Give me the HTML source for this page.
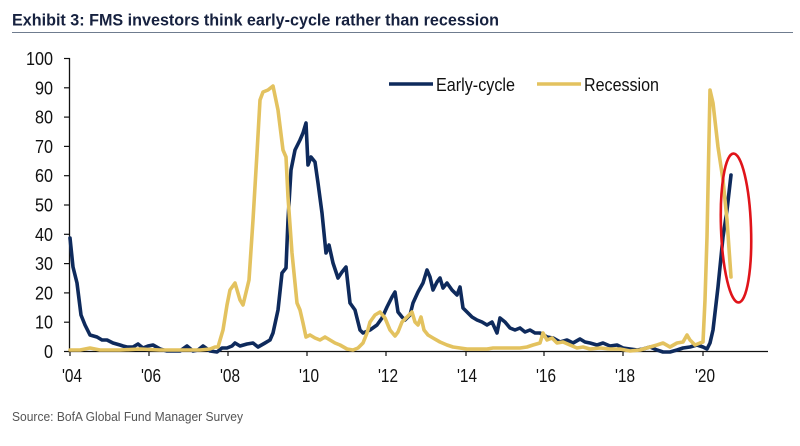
<!DOCTYPE html>
<html>
<head>
<meta charset="utf-8">
<style>
  html, body { margin: 0; padding: 0; background: #ffffff; }
  body { width: 800px; height: 446px; overflow: hidden; }
  svg { display: block; }
  text { font-family: "Liberation Sans", Arial, sans-serif; }
</style>
</head>
<body>
<svg width="800" height="446" viewBox="0 0 800 446" xmlns="http://www.w3.org/2000/svg">
  <rect width="800" height="446" fill="#ffffff"/>
  <!-- Title -->
  <text x="12" y="25.5" font-size="16.5" font-weight="bold" fill="#16213f" textLength="487" lengthAdjust="spacingAndGlyphs">Exhibit 3: FMS investors think early-cycle rather than recession</text>
  <line x1="12" y1="32.5" x2="793" y2="32.5" stroke="#6f7c8f" stroke-width="1"/>

  <!-- Y axis -->
  <line x1="69.5" y1="58" x2="69.5" y2="352" stroke="#111" stroke-width="1.3"/>
  <g stroke="#111" stroke-width="1.2">
    <line x1="64" y1="58.5" x2="70" y2="58.5"/>
    <line x1="64" y1="87.8" x2="70" y2="87.8"/>
    <line x1="64" y1="117.1" x2="70" y2="117.1"/>
    <line x1="64" y1="146.4" x2="70" y2="146.4"/>
    <line x1="64" y1="175.7" x2="70" y2="175.7"/>
    <line x1="64" y1="205" x2="70" y2="205"/>
    <line x1="64" y1="234.3" x2="70" y2="234.3"/>
    <line x1="64" y1="263.6" x2="70" y2="263.6"/>
    <line x1="64" y1="292.9" x2="70" y2="292.9"/>
    <line x1="64" y1="322.2" x2="70" y2="322.2"/>
    <line x1="64" y1="351.5" x2="70" y2="351.5"/>
  </g>
  <g font-size="18" fill="#111" text-anchor="end">
    <text x="53" y="65" textLength="27" lengthAdjust="spacingAndGlyphs">100</text>
    <text x="53" y="94.3" textLength="18" lengthAdjust="spacingAndGlyphs">90</text>
    <text x="53" y="123.6" textLength="18" lengthAdjust="spacingAndGlyphs">80</text>
    <text x="53" y="152.9" textLength="18" lengthAdjust="spacingAndGlyphs">70</text>
    <text x="53" y="182.2" textLength="18" lengthAdjust="spacingAndGlyphs">60</text>
    <text x="53" y="211.5" textLength="18" lengthAdjust="spacingAndGlyphs">50</text>
    <text x="53" y="240.8" textLength="18" lengthAdjust="spacingAndGlyphs">40</text>
    <text x="53" y="270.1" textLength="18" lengthAdjust="spacingAndGlyphs">30</text>
    <text x="53" y="299.4" textLength="18" lengthAdjust="spacingAndGlyphs">20</text>
    <text x="53" y="328.7" textLength="18" lengthAdjust="spacingAndGlyphs">10</text>
    <text x="53" y="358" textLength="9" lengthAdjust="spacingAndGlyphs">0</text>
  </g>

  <!-- X axis -->
  <line x1="68" y1="351.5" x2="768" y2="351.5" stroke="#111" stroke-width="1.3"/>
  <g stroke="#111" stroke-width="1.2">
    <line x1="70" y1="351" x2="70" y2="356"/>
    <line x1="149" y1="351" x2="149" y2="356"/>
    <line x1="228" y1="351" x2="228" y2="356"/>
    <line x1="307" y1="351" x2="307" y2="356"/>
    <line x1="386" y1="351" x2="386" y2="356"/>
    <line x1="466" y1="351" x2="466" y2="356"/>
    <line x1="544" y1="351" x2="544" y2="356"/>
    <line x1="623" y1="351" x2="623" y2="356"/>
    <line x1="703" y1="351" x2="703" y2="356"/>
  </g>
  <g font-size="18" fill="#111" text-anchor="middle">
    <text x="72" y="382" textLength="20" lengthAdjust="spacingAndGlyphs">'04</text>
    <text x="151" y="382" textLength="20" lengthAdjust="spacingAndGlyphs">'06</text>
    <text x="230" y="382" textLength="20" lengthAdjust="spacingAndGlyphs">'08</text>
    <text x="309" y="382" textLength="20" lengthAdjust="spacingAndGlyphs">'10</text>
    <text x="388" y="382" textLength="20" lengthAdjust="spacingAndGlyphs">'12</text>
    <text x="467" y="382" textLength="20" lengthAdjust="spacingAndGlyphs">'14</text>
    <text x="546" y="382" textLength="20" lengthAdjust="spacingAndGlyphs">'16</text>
    <text x="625" y="382" textLength="20" lengthAdjust="spacingAndGlyphs">'18</text>
    <text x="705" y="382" textLength="20" lengthAdjust="spacingAndGlyphs">'20</text>
  </g>

  <!-- Legend -->
  <line x1="389" y1="84" x2="433" y2="84" stroke="#0e2a5c" stroke-width="3.6"/>
  <text x="436" y="91" font-size="18" fill="#111" textLength="79" lengthAdjust="spacingAndGlyphs">Early-cycle</text>
  <line x1="537" y1="84" x2="581" y2="84" stroke="#e3c25f" stroke-width="3.6"/>
  <text x="584" y="91" font-size="18" fill="#111" textLength="75" lengthAdjust="spacingAndGlyphs">Recession</text>

  <!-- Early-cycle series -->
  <polyline fill="none" stroke="#0e2a5c" stroke-width="3.6" stroke-linejoin="round" stroke-linecap="round"
    points="70,238 73,267 77,283 81,315 85,325 90,335 97,337 102,340 107,340 113,343 120,345 123,346 127,347 133,347 138,344 143,348 148,346 153,345 160,349 167,351 174,351 180,351 187,346 193,351 198,350 203,346 210,351 217,352 222,348 227,348 232,346 235,343 240,346 247,344 253,343 258,347 265,343 270,340 273,333 278,310 282,273 286,268 288,220 291,170 295,150 300,140 303,133 306,123 308,165 311,157 315,162 318,183 322,213 326,253 329,245 333,263 338,278 342,272 346,267 350,303 355,310 360,330 363,333 370,330 377,325 382,318 387,307 392,297 395,292 398,312 402,317 405,320 410,315 413,303 418,292 423,283 427,270 430,277 433,290 437,282 440,278 443,288 447,283 452,290 457,295 460,287 463,308 467,312 472,317 477,320 482,322 487,325 492,322 497,333 500,318 505,322 510,328 515,330 520,328 525,332 530,330 535,333 540,333 547,337 553,338 560,342 567,340 573,343 580,339 585,342 590,343 597,345 603,343 610,346 617,345 623,348 630,349 637,350 643,349 650,347 657,350 663,352 670,352 677,350 683,348 690,347 697,345 703,347 707,349 710,343 713,330 718,287 723,237 727,210 731,175"/>

  <!-- Recession series -->
  <polyline fill="none" stroke="#e3c25f" stroke-width="3.6" stroke-linejoin="round" stroke-linecap="round"
    points="70,350 80,350 90,348 95,349 100,350 120,350 140,349 160,350 180,350 200,350 210,349 215,347 218,347 223,330 227,305 230,290 235,283 240,300 243,305 249,280 253,220 257,153 260,100 263,92 268,90 273,86 278,110 283,150 286,157 288,197 292,253 297,303 300,310 303,323 306,337 310,335 315,338 320,340 325,337 330,340 335,343 340,345 347,349 353,350 358,348 363,343 367,333 370,322 375,315 380,312 385,318 390,330 395,336 398,332 402,322 407,317 412,312 415,322 418,325 421,317 424,330 428,335 433,338 440,342 447,345 453,347 460,348 467,349 487,349 493,348 520,348 527,347 533,345 540,343 543,333 547,340 552,338 557,343 563,342 570,345 577,348 583,347 590,349 600,348 610,349 620,349 630,351 640,350 650,347 657,345 663,343 670,347 677,343 683,342 687,335 690,340 695,345 700,343 703,342 705,300 707,237 710,90 713,103 718,147 723,180 727,220 731,277"/>

  <!-- Red ellipse -->
  <ellipse cx="736" cy="228" rx="15" ry="74.5" fill="none" stroke="#e0141a" stroke-width="2.6" transform="rotate(-2 736 228)"/>

  <!-- Source -->
  <text x="12" y="421" font-size="13" fill="#555555" textLength="231" lengthAdjust="spacingAndGlyphs">Source: BofA Global Fund Manager Survey</text>
</svg>
</body>
</html>
